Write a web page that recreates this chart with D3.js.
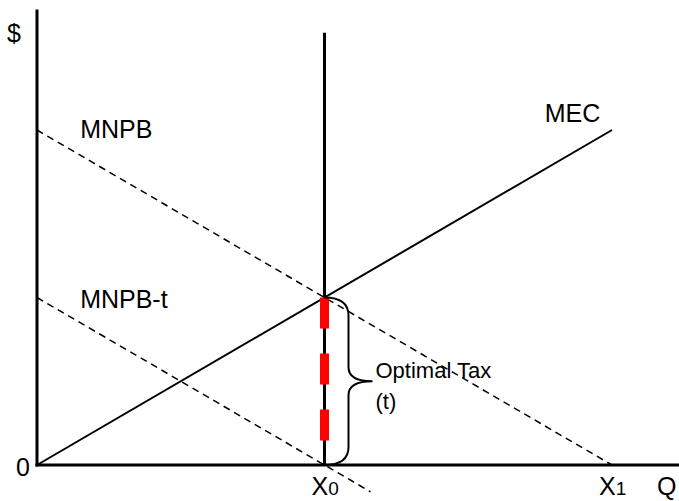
<!DOCTYPE html>
<html>
<head>
<meta charset="utf-8">
<script src="https://cdn.jsdelivr.net/npm/d3@7"></script>
<style>
  body { margin: 0; background: #fff; }
  svg text { font-family: "Liberation Sans", Arial, sans-serif; fill: #000; }
</style>
</head>
<body>
<svg id="chart" width="679" height="501"></svg>
<script>
// curvas del gráfico (unidades de Q y $)
const mnpb = [[0, 10], [10, 0]];
const mnpbT = [[0, 5], [5.8, -0.8]];
const mec = [[0, 0], [10, 10]];
const x0 = 5, x1 = 10;
const taxOptimo = [[x0, 5], [x0, 0]];
const etiquetas = ["MNPB", "MNPB-t", "MEC"];

const svg = d3.select("#chart");

const x = d3.scaleLinear().domain([0, 10]).range([37, 612]);
const y = d3.scaleLinear().domain([0, 10]).range([465, 130]);

const linea = d3.line().x(d => x(d[0])).y(d => y(d[1]));

// ejes
svg.append("line")
    .attr("x1", x(0)).attr("x2", x(0))
    .attr("y1", y(0) + 1.5).attr("y2", y(13.6))
    .attr("stroke", "#000").attr("stroke-width", 3);
svg.append("line")
    .attr("x1", x(0) - 1.5).attr("x2", x(11.3))
    .attr("y1", y(0)).attr("y2", y(0))
    .attr("stroke", "#000").attr("stroke-width", 3);

// linea vertical en X0
svg.append("line")
    .attr("x1", x(x0)).attr("x2", x(x0))
    .attr("y1", y(0)).attr("y2", y(12.9))
    .attr("stroke", "#000").attr("stroke-width", 3);

// curvas
svg.append("path").datum(mnpb)
    .attr("d", linea).attr("fill", "none")
    .attr("stroke", "#000").attr("stroke-width", 1.5)
    .attr("stroke-dasharray", "7,5");
svg.append("path").datum(mnpbT)
    .attr("d", linea).attr("fill", "none")
    .attr("stroke", "#000").attr("stroke-width", 1.5)
    .attr("stroke-dasharray", "7,5");
svg.append("path").datum(mec)
    .attr("d", linea).attr("fill", "none")
    .attr("stroke", "#000").attr("stroke-width", 2);

// impuesto optimo (rojo), de arriba hacia abajo
svg.append("path").datum(taxOptimo)
    .attr("d", linea).attr("fill", "none")
    .attr("stroke", "#ff0000").attr("stroke-width", 9)
    .attr("stroke-dasharray", "31,25");

// llave
const bx = x(x0), yArriba = y(5), yAbajo = y(0), yMedio = (yArriba + yAbajo) / 2;
const p = d3.path();
p.moveTo(bx, yArriba);
p.quadraticCurveTo(bx + 24, yArriba, bx + 24, yArriba + 18);
p.lineTo(bx + 24, yMedio - 14);
p.quadraticCurveTo(bx + 24, yMedio, bx + 48, yMedio);
p.quadraticCurveTo(bx + 24, yMedio, bx + 24, yMedio + 14);
p.lineTo(bx + 24, yAbajo - 18);
p.quadraticCurveTo(bx + 24, yAbajo, bx, yAbajo);
svg.append("path").attr("d", p.toString())
    .attr("fill", "none").attr("stroke", "#000").attr("stroke-width", 2);

// textos
const fs = "25px";
svg.append("text").attr("x", 7).attr("y", 42).style("font-size", fs).text("$");
svg.append("text").attr("x", 16).attr("y", y(0) + 11).style("font-size", fs).text("0");

svg.append("text").attr("x", x(0.75)).attr("y", y(9.75)).style("font-size", fs).text(etiquetas[0]);
svg.append("text").attr("x", x(0.75)).attr("y", y(4.7)).style("font-size", fs).text(etiquetas[1]);
svg.append("text").attr("x", x(8.83)).attr("y", y(10.24)).style("font-size", fs).text(etiquetas[2]);

svg.append("text").attr("x", bx + 51).attr("y", 378).style("font-size", "22px").text("Optimal Tax");
svg.append("text").attr("x", bx + 51).attr("y", 409).style("font-size", "22px").text("(t)");

function etiquetaX(valor, sub) {
    const t = svg.append("text").attr("x", x(valor) - 13).attr("y", 495).style("font-size", fs);
    t.append("tspan").text("X");
    t.append("tspan").style("font-size", "19px").text(sub);
}
etiquetaX(x0, "0");
etiquetaX(x1, "1");
svg.append("text").attr("x", 657).attr("y", 495).style("font-size", fs).text("Q");
</script>
</body>
</html>
